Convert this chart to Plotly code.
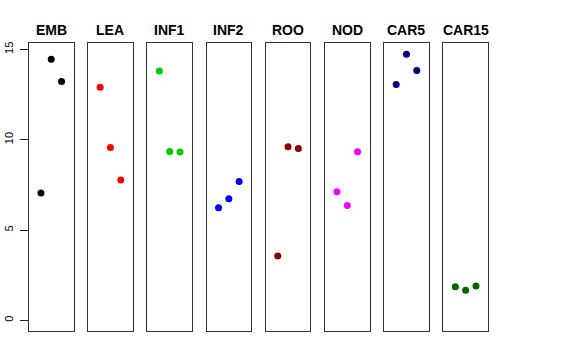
import plotly.graph_objects as go

groups = ["EMB", "LEA", "INF1", "INF2", "ROO", "NOD", "CAR5", "CAR15"]
colors = ["#000000", "#FF0000", "#00CD00", "#0000FF", "#8B0000", "#FF00FF", "#000080", "#006400"]
positions = [1, 2, 3]
emb = [7.05, 14.46, 13.23]
lea = [12.91, 9.57, 7.77]
inf1 = [13.80, 9.35, 9.32]
inf2 = [6.23, 6.73, 7.69]
roo = [3.56, 9.61, 9.52]
nod = [7.12, 6.36, 9.33]
car5 = [13.06, 14.74, 13.84]
car15 = [1.86, 1.66, 1.90]
values = [emb, lea, inf1, inf2, roo, nod, car5, car15]
yticks = [0, 5, 10, 15]

W, H = 576, 360
fig = go.Figure()
left0, step, pw = 29.0, 59.2, 44.5
ybot, ytop = (H - 331) / H, (H - 43.3) / H

for i, (g, c, v) in enumerate(zip(groups, colors, values)):
    n = "" if i == 0 else str(i + 1)
    fig.add_trace(go.Scatter(x=positions, y=v, mode="markers",
                             marker=dict(color=c, size=7, line=dict(width=0)),
                             xaxis="x" + n, yaxis="y" + n, showlegend=False))
    x0 = (left0 + step * i) / W
    x1 = (left0 + step * i + pw) / W
    fig.layout["xaxis" + n] = dict(domain=[x0, x1], range=[-0.16, 4.16], showticklabels=False,
                                   ticks="", showgrid=False, zeroline=False, showline=True,
                                   mirror=True, linecolor="#333", linewidth=1, anchor="y" + n,
                                   fixedrange=True, automargin=False)
    fig.layout["yaxis" + n] = dict(domain=[ybot, ytop], range=[-0.59, 15.34], showgrid=False,
                                   zeroline=False, showline=True, mirror=True, linecolor="#333",
                                   linewidth=1, anchor="x" + n, automargin=False,
                                   showticklabels=(i == 0), ticks="outside" if i == 0 else "",
                                   ticklen=8, tickcolor="#222", tickvals=yticks if i == 0 else None,
                                   ticklabelstandoff=3,
                                   tickangle=-90, tickfont=dict(size=11, color="#000",
                                                               family="Liberation Sans, Arial"),
                                   fixedrange=True)
    fig.add_annotation(text="<b>%s</b>" % g, x=(x0 + x1) / 2, y=(H - 30) / H,
                       xref="paper", yref="paper", showarrow=False,
                       font=dict(size=14, color="#000", family="Liberation Sans, Arial"),
                       xanchor="center", yanchor="middle")

fig.update_layout(width=W, height=H, margin=dict(l=0, r=0, t=0, b=0, autoexpand=False),
                  plot_bgcolor="white", paper_bgcolor="white")
fig.write_html("out.html", config={"displayModeBar": False},
               post_script="document.body.style.margin='0';document.body.style.overflow='hidden';")
